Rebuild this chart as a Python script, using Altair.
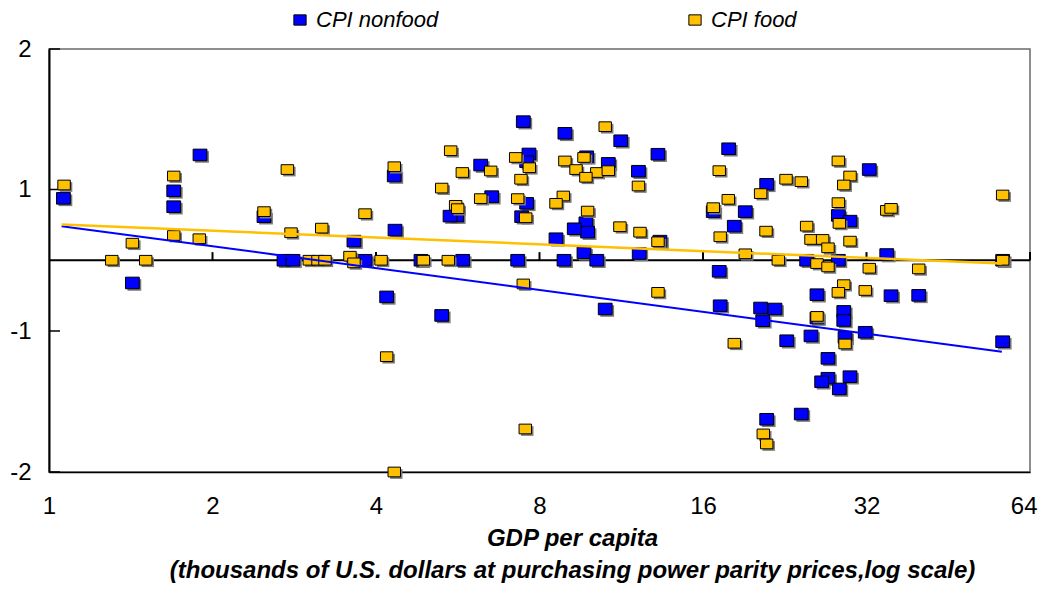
import altair as alt
import pandas as pd

# ---------------- data ----------------
series_names = ["CPI nonfood", "CPI food"]
series_colors = ["#0000FF", "#FFC000"]

nonfood_gdp = [1.063, 1.697, 1.697, 1.897, 2.488, 1.424, 2.708, 2.813, 3.643, 3.818,
               4.322, 4.336, 4.841, 5.777, 6.235, 5.632, 5.475, 6.533, 7.576, 7.418,
               7.469, 7.651, 7.576, 7.294, 8.91, 11.29, 13.22, 9.77, 10.71, 12.17,
               9.74, 9.81, 9.27, 8.58, 13.33, 9.66, 12.21, 8.876, 10.20, 4.185,
               5.285, 10.57, 17.84, 20.96, 16.71, 19.14, 18.27, 24.83, 28.40, 17.14,
               32.38, 28.40, 29.84, 34.87, 57.0, 25.94, 35.51, 39.93, 17.21, 20.43,
               21.71, 20.61, 25.94, 29.06, 29.06, 31.83, 25.29, 22.82, 29.22, 57.0,
               27.18, 27.18, 26.46, 29.84, 28.52, 24.27, 20.96]
nonfood_val = [0.875, 0.981, 0.757, 1.246, 0.616, -0.321, 0, 0, 0.270, 0,
               1.096, 0.426, 0, 0, 1.174, 0.624, 0.624, 0.899, 0.804, 0.616,
               1.483, 1.253, 1.198, 0, 1.400, 1.347, 1.251, 1.233, 1.186, 1.130,
               0.530, 0.397, 0.445, 0.304, 0.270, 0.105, 0.095, 0, 0, -0.518,
               -0.780, -0.689, 1.290, 1.037, 0.687, 0.687, 0.482, 0, 0, -0.156,
               1.142, 0.634, 0.553, 0.081, 0, -0.487, -0.501, -0.496, -0.643, -0.675,
               -0.689, -0.855, -0.817, -0.723, -0.851, -1.009, -1.035, -1.069, -1.045, -1.076,
               -1.194, -1.335, -1.360, -1.324, -1.411, -1.589, -1.626]

food_gdp = [1.066, 1.697, 2.747, 2.488, 2.790, 3.178, 1.697, 1.891, 1.424, 1.305,
            1.507, 3.015, 3.128, 3.222, 3.582, 3.643, 3.818, 4.322, 4.087, 4.889,
            5.435, 5.285, 5.490, 5.768, 6.505, 5.607, 5.656, 6.235, 7.294, 7.546,
            7.232, 7.662, 7.396, 7.469, 10.57, 8.91, 9.66, 9.34, 10.20, 10.71,
            9.74, 12.17, 8.85, 8.58, 9.81, 11.25, 12.25, 13.22, 13.22, 4.185,
            7.532, 4.322, 17.14, 22.75, 24.27, 20.43, 17.81, 16.71, 17.21, 20.90,
            24.83, 25.29, 26.57, 27.18, 19.14, 22.02, 25.94, 27.18, 28.40, 29.84,
            29.06, 28.40, 28.52, 29.84, 34.87, 35.51, 32.38, 39.93, 57.0, 57.0,
            29.06, 28.40, 31.83, 25.94, 29.22, 18.27, 20.66, 20.96]
food_val = [1.032, 1.096, 1.142, 0.687, 0.389, 0.454, 0.350, 0.304, 0.241, 0,
            0, 0, 0, 0, 0.057, -0.037, 0.658, 1.162, 0, 0,
            0, 1.01, 1.276, 1.121, 1.132, 0.776, 0.729, 0.871, 0.871, 0.601,
            1.228, 1.155, 1.073, -0.335, 1.447, 1.203, 1.228, 1.142, 1.121, 1.134,
            1.087, 1.025, 0.908, 0.804, 0.695, 0.474, 0.397, 0.261, -0.454, -1.182,
            -1.695, -2.0, 1.134, 1.073, 1.056, 0.942, 0.861, 0.743, 0.332, 0.411,
            0.482, 0.294, 0.294, 0.176, 0.091, 0, -0.047, -0.094, 1.203, 1.096,
            1.032, 0.814, 0.521, 0.270, 0.705, 0.733, -0.113, -0.122, 0.922, 0,
            -0.345, -0.454, -0.427, -0.794, -1.092, -1.087, -1.730, -1.801]

fit_gdp = [1.055, 56.8]
fit_nonfood = [0.482, -1.147]
fit_food = [0.506, -0.047]

x_ticks = [1, 2, 4, 8, 16, 32, 64]
zero_ticks = [2, 4, 8, 16, 32, 64]
y_ticks = [-2, -1, 1, 2]

# ---------------- tables ----------------
nonfood_df = pd.DataFrame({"gdp": nonfood_gdp, "val": nonfood_val, "series": series_names[0]})
food_df = pd.DataFrame({"gdp": food_gdp, "val": food_val, "series": series_names[1]})
fit_nf_df = pd.DataFrame({"gdp": fit_gdp, "val": fit_nonfood})
fit_fd_df = pd.DataFrame({"gdp": fit_gdp, "val": fit_food})
zero_df = pd.DataFrame({"gdp": [x_ticks[0]], "gdp2": [x_ticks[-1]], "val": [0.0]})
zt_df = pd.DataFrame({"gdp": zero_ticks, "val": [0.0] * len(zero_ticks), "val2": [0.115] * len(zero_ticks)})
yt_df = pd.DataFrame({"val": y_ticks})

# ---------------- styling ----------------
W, H = 981, 423
FONT = "Liberation Sans, Arial, sans-serif"
RECT = "M-1,-0.84H1V0.84H-1Z"
RECT_O = "M-1,-0.78H1V0.78H-1Z"

xscale = alt.Scale(type="log", base=2, domain=[1, 64], nice=False)
yscale = alt.Scale(type="linear", domain=[-2, -1, 1, 2], range=[H, 282, 140.5, 0],
                   nice=False, zero=False)

xaxis = alt.Axis(values=x_ticks, format="d", ticks=False, grid=False,
                 domainColor="black", domainWidth=1.5,
                 labelFont=FONT, labelFontSize=24, labelColor="black", labelPadding=22,
                 labelFlush=False,
                 labelAlign={"condition": {"test": "datum.value >= 64", "value": "right"},
                             "value": "center"},
                 labelOffset={"condition": {"test": "datum.value >= 64", "value": 7},
                              "value": 0},
                 title=["GDP per capita",
                        "(thousands of U.S. dollars at purchasing power parity prices,log scale)"],
                 titleFont=FONT, titleFontSize=24, titleFontWeight="bold",
                 titleFontStyle="italic", titleColor="black", titleLineHeight=32,
                 titleX=523, titleY=54, titleAlign="center", titleBaseline="top")
yaxis = alt.Axis(values=y_ticks, ticks=False, grid=False,
                 domainColor="black", domainWidth=2,
                 labelFont=FONT, labelFontSize=24, labelColor="black", labelPadding=18,
                 labelExpr="datum.value < 0 ? '-' + abs(datum.value) : '' + datum.value",
                 title=None)


def X(field="gdp"):
    return alt.X(f"{field}:Q", scale=xscale, axis=xaxis)


def Y(field="val"):
    return alt.Y(f"{field}:Q", scale=yscale, axis=yaxis)


color = alt.Color("series:N",
                  scale=alt.Scale(domain=series_names, range=series_colors),
                  legend=alt.Legend(title=None, orient="none", legendX=240, legendY=-40,
                                    direction="horizontal", symbolType=RECT, symbolSize=150,
                                    symbolStrokeColor="black", symbolStrokeWidth=1,
                                    symbolOpacity=1,
                                    labelFont=FONT, labelFontSize=22, labelFontStyle="italic",
                                    labelColor="black", labelOffset=5, columnPadding=245))

zero_line = alt.Chart(zero_df).mark_rule(color="black", strokeWidth=2).encode(
    x=X(), x2="gdp2:Q", y=Y())
zero_tk = alt.Chart(zt_df).mark_rule(color="black", strokeWidth=2).encode(
    x=X(), y=Y(), y2="val2:Q")
left_tk = alt.Chart(yt_df).mark_rule(color="black", strokeWidth=1.5).encode(
    x=alt.value(0), x2=alt.value(11), y=Y())


def series_layers(df, shape, size):
    shadow = alt.Chart(df).mark_point(shape=shape, size=size, filled=True, opacity=1,
                                      color="#7a7a7a", xOffset=2, yOffset=2).encode(
        x=X(), y=Y())
    body = alt.Chart(df).mark_point(shape=shape, size=size, filled=True, opacity=1,
                                    stroke="black", strokeWidth=1).encode(
        x=X(), y=Y(), color=color)
    return [shadow, body]


fit_nf = alt.Chart(fit_nf_df).mark_line(color="#0000FF", strokeWidth=2).encode(x=X(), y=Y())
fit_fd = alt.Chart(fit_fd_df).mark_line(color="#FFC000", strokeWidth=2.5).encode(x=X(), y=Y())

layers = [zero_line, zero_tk, left_tk]
layers += series_layers(nonfood_df, RECT, 190)
layers += series_layers(food_df, RECT_O, 155)
layers += [fit_nf, fit_fd]

chart = alt.layer(*layers).properties(
    width=W, height=H,
    autosize=alt.AutoSizeParams(type="none"),
    padding={"left": 41, "top": 41, "right": 8, "bottom": 113},
    background="white",
).configure_view(stroke="#6a6a6a", strokeWidth=1.5)

chart.save("out.html", embed_options={"renderer": "svg", "actions": False})
